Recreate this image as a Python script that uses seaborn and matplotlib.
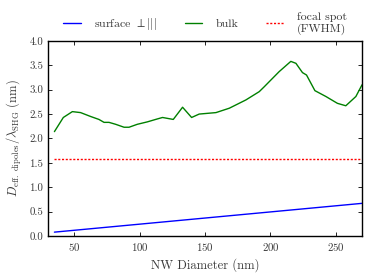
import numpy as np
import pandas as pd
import matplotlib
matplotlib.use("Agg")
import matplotlib.pyplot as plt
import seaborn as sns

# ------------------------------------------
# Data
# ------------------------------------------
bulk_d = [35, 41.8, 48.7, 55, 62.7, 69, 72.9, 76.7, 81.8, 88.2, 92, 98.3, 106,
          113.6, 117.6, 125.8, 132.9, 139.8, 145.6, 158.4, 168.6, 181.3, 191.5,
          195.3, 206.7, 215.6, 219.5, 224.5, 227.6, 234, 242.4, 251.2, 257.6,
          265.3, 270]
bulk_v = [2.14, 2.43, 2.55, 2.53, 2.45, 2.39, 2.33, 2.33, 2.29, 2.23, 2.23, 2.29,
          2.34, 2.40, 2.43, 2.39, 2.64, 2.43, 2.50, 2.53, 2.62, 2.79, 2.96,
          3.06, 3.37, 3.58, 3.54, 3.35, 3.30, 2.98, 2.86, 2.72, 2.67,
          2.86, 3.10]

surface_d = [35, 270]
surface_v = [0.08, 0.67]

focal_d = [35, 270]
focal_v = [1.57, 1.57]

# ------------------------------------------
# Style
# ------------------------------------------
sns.set_style("ticks")
text_col = "#3a3a3a"
plt.rcParams.update({
    "font.family": ["cmr10", "DejaVu Serif"],
    "mathtext.fontset": "cm",
    "axes.formatter.use_mathtext": True,
    "xtick.direction": "in",
    "ytick.direction": "in",
    "xtick.top": True,
    "ytick.right": True,
    "xtick.color": "black",
    "ytick.color": "black",
    "xtick.labelcolor": text_col,
    "ytick.labelcolor": text_col,
    "axes.edgecolor": "black",
    "axes.linewidth": 1.0,
    "text.color": text_col,
    "axes.labelcolor": text_col,
})

fig = plt.figure(figsize=(3.74, 2.8), dpi=100)
ax = fig.add_axes([0.128, 0.157, 0.84, 0.697])

sns.lineplot(x=surface_d, y=surface_v, ax=ax, color="blue", lw=1.0,
             label=r"surface $\perp|||$")
sns.lineplot(x=bulk_d, y=bulk_v, ax=ax, color="green", lw=1.0, label="bulk")
sns.lineplot(x=focal_d, y=focal_v, ax=ax, color="red", lw=1.0,
             linestyle=(0, (1.5, 1.2)), label="focal spot\n(FWHM)")

ax.set_xlim(30, 270)
ax.set_ylim(0, 4.0)
ax.set_xticks([50, 100, 150, 200, 250])
ax.set_yticks(np.arange(0, 4.01, 0.5))
ax.set_yticklabels([f"{v:.1f}" for v in np.arange(0, 4.01, 0.5)])
ax.tick_params(labelsize=7.8, length=3, width=0.6)

ax.set_xlabel("NW Diameter (nm)", fontsize=9)
ax.set_ylabel(r"$D_{\rm eff.\ dipoles}/\lambda_{\rm SHG}$ (nm)", fontsize=9)

ax.legend(loc="lower center", bbox_to_anchor=(0.5, 0.975), ncol=3,
          frameon=False, fontsize=8.6, handlelength=1.5, handletextpad=1.1,
          columnspacing=2.3)

fig.savefig("out.png", dpi=100)
